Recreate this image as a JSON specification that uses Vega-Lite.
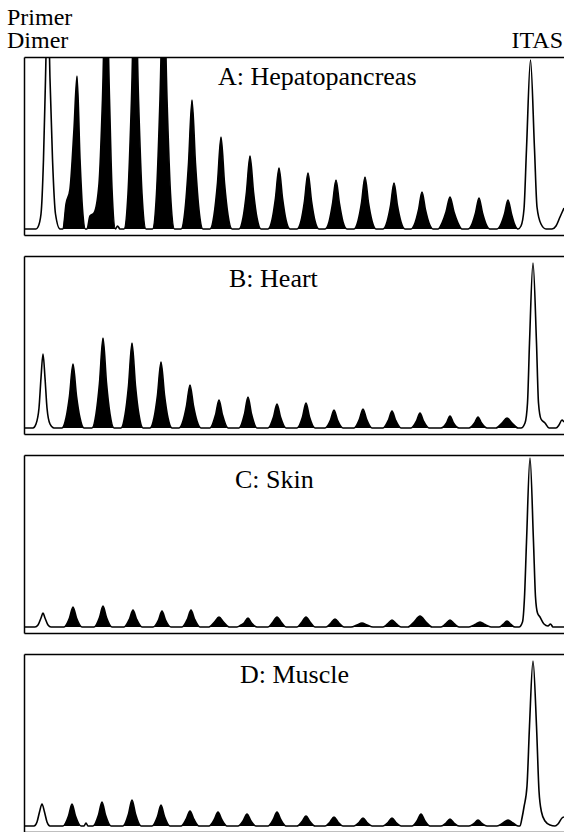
{
  "$schema": "https://vega.github.io/schema/vega-lite/v6.json",
  "autosize": {"type": "pad"},
  "padding": {"left": 7, "top": 6, "right": 0, "bottom": 0},
  "spacing": 21,
  "background": "white",
  "config": {"view": {"stroke": null}},
  "datasets": {
    "A": [
      {"x":24,"y":0,"g":0},{"x":36,"y":0,"g":0},{"x":38,"y":2,"g":0},{"x":41,"y":15,"g":0},{"x":43.5,"y":70,"g":0},{"x":45.5,"y":150,"g":0},{"x":47.8,"y":240,"g":0},{"x":50,"y":150,"g":0},{"x":52.5,"y":70,"g":0},{"x":55.5,"y":15,"g":0},{"x":60,"y":0,"g":0},
      {"x":63,"y":0,"g":1},{"x":66,"y":25,"g":1},{"x":70,"y":40,"g":1},{"x":74,"y":100,"g":1},{"x":77,"y":153,"g":1},{"x":80,"y":70,"g":1},{"x":82.5,"y":20,"g":1},{"x":85.5,"y":0,"g":1},
      {"x":87,"y":0,"g":2},{"x":90,"y":13,"g":2},{"x":94,"y":16,"g":2},{"x":99,"y":45,"g":2},{"x":102.5,"y":130,"g":2},{"x":106,"y":260,"g":2},{"x":109.5,"y":130,"g":2},{"x":112,"y":40,"g":2},{"x":115.5,"y":0,"g":2},
      {"x":117.5,"y":3,"g":0},{"x":120,"y":0,"g":0},
      {"x":124,"y":0,"g":3},{"x":128,"y":35,"g":3},{"x":131.5,"y":130,"g":3},{"x":135,"y":260,"g":3},{"x":138.5,"y":130,"g":3},{"x":142,"y":35,"g":3},{"x":146,"y":0,"g":3},
      {"x":152.5,"y":0,"g":4},{"x":156.5,"y":35,"g":4},{"x":160,"y":130,"g":4},{"x":163.5,"y":260,"g":4},{"x":167,"y":130,"g":4},{"x":170.5,"y":35,"g":4},{"x":174.5,"y":0,"g":4},
      {"x":181,"y":0,"g":5},{"x":185,"y":19,"g":5},{"x":188.5,"y":65,"g":5},{"x":192,"y":129,"g":5},{"x":195.5,"y":65,"g":5},{"x":199,"y":19,"g":5},{"x":203,"y":0,"g":5},
      {"x":210,"y":0,"g":6},{"x":214,"y":14,"g":6},{"x":217.5,"y":46,"g":6},{"x":221,"y":92,"g":6},{"x":224.5,"y":46,"g":6},{"x":228,"y":14,"g":6},{"x":232,"y":0,"g":6},
      {"x":239,"y":0,"g":7},{"x":243,"y":11,"g":7},{"x":246.5,"y":37,"g":7},{"x":250,"y":73,"g":7},{"x":253.5,"y":37,"g":7},{"x":257,"y":11,"g":7},{"x":261,"y":0,"g":7},
      {"x":268,"y":0,"g":8},{"x":272,"y":9,"g":8},{"x":275.5,"y":31,"g":8},{"x":279,"y":61,"g":8},{"x":282.5,"y":31,"g":8},{"x":286,"y":9,"g":8},{"x":290,"y":0,"g":8},
      {"x":297,"y":0,"g":9},{"x":301,"y":8,"g":9},{"x":304.5,"y":28,"g":9},{"x":308,"y":56,"g":9},{"x":311.5,"y":28,"g":9},{"x":315,"y":8,"g":9},{"x":319,"y":0,"g":9},
      {"x":325,"y":0,"g":10},{"x":329,"y":7,"g":10},{"x":332.5,"y":25,"g":10},{"x":336,"y":49,"g":10},{"x":339.5,"y":25,"g":10},{"x":343,"y":7,"g":10},{"x":347,"y":0,"g":10},
      {"x":354,"y":0,"g":11},{"x":358,"y":8,"g":11},{"x":361.5,"y":26,"g":11},{"x":365,"y":52,"g":11},{"x":368.5,"y":26,"g":11},{"x":372,"y":8,"g":11},{"x":376,"y":0,"g":11},
      {"x":383,"y":0,"g":12},{"x":387,"y":7,"g":12},{"x":390.5,"y":23,"g":12},{"x":394,"y":46,"g":12},{"x":397.5,"y":23,"g":12},{"x":401,"y":7,"g":12},{"x":405,"y":0,"g":12},
      {"x":411,"y":0,"g":13},{"x":415,"y":6,"g":13},{"x":418.5,"y":19,"g":13},{"x":422,"y":37,"g":13},{"x":425.5,"y":19,"g":13},{"x":429,"y":6,"g":13},{"x":433,"y":0,"g":13},
      {"x":438,"y":0,"g":14},{"x":442,"y":6,"g":14},{"x":446,"y":17,"g":14},{"x":450,"y":32,"g":14},{"x":454,"y":17,"g":14},{"x":458,"y":6,"g":14},{"x":462,"y":0,"g":14},
      {"x":468,"y":0,"g":15},{"x":472,"y":5,"g":15},{"x":475.5,"y":16,"g":15},{"x":479,"y":31,"g":15},{"x":482.5,"y":16,"g":15},{"x":486,"y":5,"g":15},{"x":490,"y":0,"g":15},
      {"x":497,"y":0,"g":16},{"x":501,"y":5,"g":16},{"x":504.5,"y":15,"g":16},{"x":508,"y":29,"g":16},{"x":511.5,"y":15,"g":16},{"x":514.5,"y":5,"g":16},{"x":518,"y":0,"g":16},
      {"x":521,"y":3,"g":0},{"x":524,"y":20,"g":0},{"x":526.5,"y":80,"g":0},{"x":530.5,"y":169,"g":0},{"x":534.5,"y":80,"g":0},{"x":537,"y":22,"g":0},{"x":541,"y":5,"g":0},{"x":546,"y":0,"g":0},{"x":552,"y":0,"g":0},{"x":556,"y":3,"g":0},{"x":560,"y":12,"g":0},{"x":564,"y":21,"g":0}
    ],
    "B": [
      {"x":24,"y":0,"g":0},{"x":33,"y":0,"g":0},{"x":36,"y":4,"g":0},{"x":39,"y":20,"g":0},{"x":41,"y":50,"g":0},{"x":43,"y":74,"g":0},{"x":45,"y":50,"g":0},{"x":47,"y":20,"g":0},{"x":50,"y":4,"g":0},{"x":54,"y":0,"g":0},
      {"x":62,"y":0,"g":1},{"x":66,"y":10,"g":1},{"x":69.5,"y":32,"g":1},{"x":73,"y":64,"g":1},{"x":76.5,"y":32,"g":1},{"x":80,"y":10,"g":1},{"x":84,"y":0,"g":1},
      {"x":92,"y":0,"g":2},{"x":96,"y":14,"g":2},{"x":99.5,"y":45,"g":2},{"x":103,"y":90,"g":2},{"x":106.5,"y":45,"g":2},{"x":110,"y":14,"g":2},{"x":114,"y":0,"g":2},
      {"x":121,"y":0,"g":3},{"x":125,"y":13,"g":3},{"x":128.5,"y":42,"g":3},{"x":132,"y":85,"g":3},{"x":135.5,"y":42,"g":3},{"x":139,"y":13,"g":3},{"x":143,"y":0,"g":3},
      {"x":150,"y":0,"g":4},{"x":154,"y":10,"g":4},{"x":157.5,"y":33,"g":4},{"x":161,"y":66,"g":4},{"x":164.5,"y":33,"g":4},{"x":168,"y":10,"g":4},{"x":172,"y":0,"g":4},
      {"x":179,"y":0,"g":5},{"x":183,"y":7,"g":5},{"x":186.5,"y":22,"g":5},{"x":190,"y":43,"g":5},{"x":193.5,"y":22,"g":5},{"x":197,"y":7,"g":5},{"x":201,"y":0,"g":5},
      {"x":210,"y":0,"g":6},{"x":215.5,"y":13,"g":6},{"x":219,"y":28,"g":6},{"x":222.5,"y":13,"g":6},{"x":228,"y":0,"g":6},
      {"x":239,"y":0,"g":7},{"x":244.5,"y":14,"g":7},{"x":248,"y":31,"g":7},{"x":251.5,"y":14,"g":7},{"x":257,"y":0,"g":7},
      {"x":268,"y":0,"g":8},{"x":273.5,"y":11,"g":8},{"x":277,"y":24,"g":8},{"x":280.5,"y":11,"g":8},{"x":286,"y":0,"g":8},
      {"x":297,"y":0,"g":9},{"x":302.5,"y":11,"g":9},{"x":306,"y":25,"g":9},{"x":309.5,"y":11,"g":9},{"x":315,"y":0,"g":9},
      {"x":325,"y":0,"g":10},{"x":330.5,"y":8,"g":10},{"x":334,"y":18,"g":10},{"x":337.5,"y":8,"g":10},{"x":343,"y":0,"g":10},
      {"x":354,"y":0,"g":11},{"x":359.5,"y":9,"g":11},{"x":363,"y":19,"g":11},{"x":366.5,"y":9,"g":11},{"x":372,"y":0,"g":11},
      {"x":383,"y":0,"g":12},{"x":388.5,"y":8,"g":12},{"x":392,"y":17,"g":12},{"x":395.5,"y":8,"g":12},{"x":401,"y":0,"g":12},
      {"x":411,"y":0,"g":13},{"x":416.5,"y":7,"g":13},{"x":420,"y":15,"g":13},{"x":423.5,"y":7,"g":13},{"x":429,"y":0,"g":13},
      {"x":441,"y":0,"g":14},{"x":446.5,"y":5,"g":14},{"x":450,"y":12,"g":14},{"x":453.5,"y":5,"g":14},{"x":459,"y":0,"g":14},
      {"x":469,"y":0,"g":15},{"x":474.5,"y":5,"g":15},{"x":478,"y":11,"g":15},{"x":481.5,"y":5,"g":15},{"x":487,"y":0,"g":15},
      {"x":496,"y":0,"g":16},{"x":502,"y":5,"g":16},{"x":507,"y":10,"g":16},{"x":512,"y":5,"g":16},{"x":518,"y":0,"g":16},
      {"x":521,"y":0,"g":0},{"x":525,"y":5,"g":0},{"x":527.5,"y":25,"g":0},{"x":529.5,"y":85,"g":0},{"x":533,"y":165,"g":0},{"x":536.5,"y":85,"g":0},{"x":538.5,"y":25,"g":0},{"x":541,"y":9,"g":0},{"x":545,"y":5,"g":0},{"x":549,"y":0,"g":0},{"x":556,"y":0,"g":0},{"x":559,"y":3,"g":0},{"x":562,"y":8,"g":0},{"x":564,"y":6,"g":0}
    ],
    "C": [
      {"x":24,"y":0,"g":0},{"x":35,"y":0,"g":0},{"x":38,"y":2,"g":0},{"x":41,"y":9,"g":0},{"x":43,"y":14,"g":0},{"x":45,"y":9,"g":0},{"x":48,"y":2,"g":0},{"x":51,"y":0,"g":0},
      {"x":64,"y":0,"g":1},{"x":69.5,"y":9,"g":1},{"x":73,"y":20,"g":1},{"x":76.5,"y":9,"g":1},{"x":82,"y":0,"g":1},
      {"x":94,"y":0,"g":2},{"x":99.5,"y":9.5,"g":2},{"x":103,"y":21,"g":2},{"x":106.5,"y":9.5,"g":2},{"x":112,"y":0,"g":2},
      {"x":124,"y":0,"g":3},{"x":129.5,"y":8,"g":3},{"x":133,"y":17,"g":3},{"x":136.5,"y":8,"g":3},{"x":142,"y":0,"g":3},
      {"x":153,"y":0,"g":4},{"x":158.5,"y":7,"g":4},{"x":162,"y":16,"g":4},{"x":165.5,"y":7,"g":4},{"x":171,"y":0,"g":4},
      {"x":182,"y":0,"g":5},{"x":187.5,"y":8,"g":5},{"x":191,"y":17,"g":5},{"x":194.5,"y":8,"g":5},{"x":200,"y":0,"g":5},
      {"x":209,"y":0,"g":6},{"x":214.5,"y":5,"g":6},{"x":219,"y":10,"g":6},{"x":223.5,"y":5,"g":6},{"x":229,"y":0,"g":6},
      {"x":237,"y":0,"g":7},{"x":241,"y":2,"g":7},{"x":244,"y":4,"g":7},{"x":248,"y":9,"g":7},{"x":251.5,"y":4,"g":7},{"x":257,"y":0,"g":7},
      {"x":268,"y":0,"g":8},{"x":272.5,"y":4.5,"g":8},{"x":277,"y":10,"g":8},{"x":281.5,"y":4.5,"g":8},{"x":286,"y":0,"g":8},
      {"x":297,"y":0,"g":9},{"x":301.5,"y":4.5,"g":9},{"x":306,"y":10,"g":9},{"x":310.5,"y":4.5,"g":9},{"x":315,"y":0,"g":9},
      {"x":326,"y":0,"g":10},{"x":330.5,"y":3.5,"g":10},{"x":335,"y":8,"g":10},{"x":339.5,"y":3.5,"g":10},{"x":344,"y":0,"g":10},
      {"x":351,"y":0,"g":11},{"x":357,"y":2,"g":11},{"x":362,"y":4,"g":11},{"x":367,"y":2,"g":11},{"x":373,"y":0,"g":11},
      {"x":383,"y":0,"g":12},{"x":387.5,"y":3,"g":12},{"x":392,"y":7,"g":12},{"x":396.5,"y":3,"g":12},{"x":401,"y":0,"g":12},
      {"x":408,"y":0,"g":13},{"x":414,"y":5,"g":13},{"x":420,"y":11,"g":13},{"x":426,"y":5,"g":13},{"x":432,"y":0,"g":13},
      {"x":441,"y":0,"g":14},{"x":445.5,"y":3,"g":14},{"x":450,"y":7,"g":14},{"x":454.5,"y":3,"g":14},{"x":459,"y":0,"g":14},
      {"x":469,"y":0,"g":15},{"x":475,"y":2.5,"g":15},{"x":480,"y":5,"g":15},{"x":485,"y":2.5,"g":15},{"x":491,"y":0,"g":15},
      {"x":499,"y":0,"g":16},{"x":503,"y":2.5,"g":16},{"x":507,"y":6,"g":16},{"x":511,"y":2.5,"g":16},{"x":515,"y":0,"g":16},
      {"x":519,"y":0,"g":0},{"x":522.5,"y":5,"g":0},{"x":524.5,"y":30,"g":0},{"x":526.5,"y":85,"g":0},{"x":530,"y":169,"g":0},{"x":533.5,"y":85,"g":0},{"x":535.5,"y":30,"g":0},{"x":537.5,"y":14,"g":0},{"x":540,"y":10,"g":0},{"x":544,"y":3,"g":0},{"x":548,"y":1,"g":0},{"x":550.5,"y":3,"g":0},{"x":553,"y":0,"g":0},{"x":564,"y":0,"g":0}
    ],
    "D": [
      {"x":24,"y":0,"g":0},{"x":34,"y":0,"g":0},{"x":37,"y":4,"g":0},{"x":39.5,"y":14,"g":0},{"x":42,"y":22,"g":0},{"x":44.5,"y":14,"g":0},{"x":47,"y":4,"g":0},{"x":50,"y":0,"g":0},
      {"x":63,"y":0,"g":1},{"x":68.5,"y":10,"g":1},{"x":72,"y":22,"g":1},{"x":75.5,"y":10,"g":1},{"x":81,"y":0,"g":1},
      {"x":84,"y":0,"g":0},{"x":86,"y":3,"g":0},{"x":88,"y":0,"g":0},
      {"x":93,"y":0,"g":2},{"x":98.5,"y":11,"g":2},{"x":102,"y":24,"g":2},{"x":105.5,"y":11,"g":2},{"x":111,"y":0,"g":2},
      {"x":123,"y":0,"g":3},{"x":128.5,"y":12,"g":3},{"x":132,"y":26,"g":3},{"x":135.5,"y":12,"g":3},{"x":141,"y":0,"g":3},
      {"x":152,"y":0,"g":4},{"x":157.5,"y":9.5,"g":4},{"x":161,"y":21,"g":4},{"x":164.5,"y":9.5,"g":4},{"x":170,"y":0,"g":4},
      {"x":181,"y":0,"g":5},{"x":186,"y":6.5,"g":5},{"x":190,"y":15,"g":5},{"x":194,"y":6.5,"g":5},{"x":199,"y":0,"g":5},
      {"x":209,"y":0,"g":6},{"x":214,"y":6,"g":6},{"x":218,"y":14,"g":6},{"x":222,"y":6,"g":6},{"x":227,"y":0,"g":6},
      {"x":238,"y":0,"g":7},{"x":243,"y":5,"g":7},{"x":247,"y":12,"g":7},{"x":251,"y":5,"g":7},{"x":256,"y":0,"g":7},
      {"x":268,"y":0,"g":8},{"x":273,"y":6,"g":8},{"x":277,"y":14,"g":8},{"x":281,"y":6,"g":8},{"x":286,"y":0,"g":8},
      {"x":297,"y":0,"g":9},{"x":302,"y":4.5,"g":9},{"x":306,"y":10,"g":9},{"x":310,"y":4.5,"g":9},{"x":315,"y":0,"g":9},
      {"x":325,"y":0,"g":10},{"x":330,"y":4,"g":10},{"x":334,"y":9,"g":10},{"x":338,"y":4,"g":10},{"x":343,"y":0,"g":10},
      {"x":354,"y":0,"g":11},{"x":359,"y":3.5,"g":11},{"x":363,"y":8,"g":11},{"x":367,"y":3.5,"g":11},{"x":372,"y":0,"g":11},
      {"x":383,"y":0,"g":12},{"x":388,"y":3.5,"g":12},{"x":392,"y":8,"g":12},{"x":396,"y":3.5,"g":12},{"x":401,"y":0,"g":12},
      {"x":412,"y":0,"g":13},{"x":417,"y":5,"g":13},{"x":421,"y":12,"g":13},{"x":425,"y":5,"g":13},{"x":430,"y":0,"g":13},
      {"x":441,"y":0,"g":14},{"x":446,"y":3,"g":14},{"x":450,"y":7,"g":14},{"x":454,"y":3,"g":14},{"x":459,"y":0,"g":14},
      {"x":469,"y":0,"g":15},{"x":474,"y":2.5,"g":15},{"x":478,"y":6,"g":15},{"x":482,"y":2.5,"g":15},{"x":487,"y":0,"g":15},
      {"x":497,"y":0,"g":16},{"x":503,"y":3,"g":16},{"x":508,"y":6,"g":16},{"x":513,"y":3,"g":16},{"x":518,"y":0,"g":16},
      {"x":520,"y":0,"g":0},{"x":522,"y":8,"g":0},{"x":524,"y":19,"g":0},{"x":527,"y":40,"g":0},{"x":529.5,"y":100,"g":0},{"x":533,"y":165,"g":0},{"x":536.5,"y":100,"g":0},{"x":539,"y":35,"g":0},{"x":541.5,"y":14,"g":0},{"x":545,"y":5,"g":0},{"x":550,"y":1,"g":0},{"x":555,"y":0,"g":0},{"x":558,"y":2,"g":0},{"x":562,"y":8,"g":0},{"x":564,"y":9,"g":0}
    ]
  },
  "vconcat": [
    {
      "width": 540, "height": 178,
      "layer": [
        {"data": {"name": "A"}, "transform": [{"filter": "datum.g > 0"}],
         "mark": {"type": "area", "interpolate": "monotone", "color": "black", "clip": true},
         "encoding": {"x": {"field": "x", "type": "quantitative", "scale": {"domain": [24, 564], "nice": false, "zero": false}, "axis": null},
                      "y": {"field": "y", "type": "quantitative", "scale": {"domain": [-6, 172], "nice": false, "zero": false}, "axis": {"orient": "left", "ticks": false, "labels": false, "grid": false, "title": null, "domainColor": "black", "domainWidth": 1.5}},
                      "detail": {"field": "g"}}},
        {"data": {"name": "A"},
         "mark": {"type": "line", "interpolate": "monotone", "color": "black", "strokeWidth": 1.6, "clip": true},
         "encoding": {"x": {"field": "x", "type": "quantitative", "scale": {"domain": [24, 564], "nice": false, "zero": false}, "axis": {"orient": "bottom", "ticks": false, "labels": false, "grid": false, "title": null, "domainColor": "black", "domainWidth": 1.5}},
                      "y": {"field": "y", "type": "quantitative", "scale": {"domain": [-6, 172], "nice": false, "zero": false}, "axis": {"orient": "left", "ticks": false, "labels": false, "grid": false, "title": null, "domainColor": "black", "domainWidth": 1.5}}}},
        {"data": {"values": [{"x": 218, "y": 144, "t": "A: Hepatopancreas"}]},
         "mark": {"type": "text", "font": "Liberation Serif", "fontSize": 26, "align": "left", "baseline": "alphabetic", "color": "black"},
         "encoding": {"x": {"field": "x", "type": "quantitative", "scale": {"domain": [24, 564], "nice": false, "zero": false}, "axis": {"orient": "top", "ticks": false, "labels": false, "grid": false, "title": null, "domainColor": "black", "domainWidth": 1.5}},
                      "y": {"field": "y", "type": "quantitative", "scale": {"domain": [-6, 172], "nice": false, "zero": false}, "axis": {"orient": "left", "ticks": false, "labels": false, "grid": false, "title": null, "domainColor": "black", "domainWidth": 1.5}},
                      "text": {"field": "t"}}},
        {"data": {"values": [{"x": 7, "y": 204, "t": "Primer"}, {"x": 7, "y": 181, "t": "Dimer"}]},
         "mark": {"type": "text", "font": "Liberation Serif", "fontSize": 24, "align": "left", "baseline": "alphabetic", "color": "black"},
         "encoding": {"x": {"field": "x", "type": "quantitative", "scale": {"domain": [24, 564], "nice": false, "zero": false}, "axis": null},
                      "y": {"field": "y", "type": "quantitative", "scale": {"domain": [-6, 172], "nice": false, "zero": false}, "axis": {"orient": "left", "ticks": false, "labels": false, "grid": false, "title": null, "domainColor": "black", "domainWidth": 1.5}},
                      "text": {"field": "t"}}},
        {"data": {"values": [{"x": 563, "y": 181, "t": "ITAS"}]},
         "mark": {"type": "text", "font": "Liberation Serif", "fontSize": 24, "align": "right", "baseline": "alphabetic", "color": "black"},
         "encoding": {"x": {"field": "x", "type": "quantitative", "scale": {"domain": [24, 564], "nice": false, "zero": false}, "axis": null},
                      "y": {"field": "y", "type": "quantitative", "scale": {"domain": [-6, 172], "nice": false, "zero": false}, "axis": {"orient": "left", "ticks": false, "labels": false, "grid": false, "title": null, "domainColor": "black", "domainWidth": 1.5}},
                      "text": {"field": "t"}}}
      ],
      "resolve": {"axis": {"x": "independent"}}
    },
    {
      "width": 540, "height": 178,
      "layer": [
        {"data": {"name": "B"}, "transform": [{"filter": "datum.g > 0"}],
         "mark": {"type": "area", "interpolate": "monotone", "color": "black", "clip": true},
         "encoding": {"x": {"field": "x", "type": "quantitative", "scale": {"domain": [24, 564], "nice": false, "zero": false}, "axis": null},
                      "y": {"field": "y", "type": "quantitative", "scale": {"domain": [-6, 172], "nice": false, "zero": false}, "axis": {"orient": "left", "ticks": false, "labels": false, "grid": false, "title": null, "domainColor": "black", "domainWidth": 1.5}},
                      "detail": {"field": "g"}}},
        {"data": {"name": "B"},
         "mark": {"type": "line", "interpolate": "monotone", "color": "black", "strokeWidth": 1.6, "clip": true},
         "encoding": {"x": {"field": "x", "type": "quantitative", "scale": {"domain": [24, 564], "nice": false, "zero": false}, "axis": {"orient": "bottom", "ticks": false, "labels": false, "grid": false, "title": null, "domainColor": "black", "domainWidth": 1.5}},
                      "y": {"field": "y", "type": "quantitative", "scale": {"domain": [-6, 172], "nice": false, "zero": false}, "axis": {"orient": "left", "ticks": false, "labels": false, "grid": false, "title": null, "domainColor": "black", "domainWidth": 1.5}}}},
        {"data": {"values": [{"x": 229, "y": 141, "t": "B: Heart"}]},
         "mark": {"type": "text", "font": "Liberation Serif", "fontSize": 26, "align": "left", "baseline": "alphabetic", "color": "black"},
         "encoding": {"x": {"field": "x", "type": "quantitative", "scale": {"domain": [24, 564], "nice": false, "zero": false}, "axis": {"orient": "top", "ticks": false, "labels": false, "grid": false, "title": null, "domainColor": "black", "domainWidth": 1.5}},
                      "y": {"field": "y", "type": "quantitative", "scale": {"domain": [-6, 172], "nice": false, "zero": false}, "axis": {"orient": "left", "ticks": false, "labels": false, "grid": false, "title": null, "domainColor": "black", "domainWidth": 1.5}},
                      "text": {"field": "t"}}}
      ],
      "resolve": {"axis": {"x": "independent"}}
    },
    {
      "width": 540, "height": 178,
      "layer": [
        {"data": {"name": "C"}, "transform": [{"filter": "datum.g > 0"}],
         "mark": {"type": "area", "interpolate": "monotone", "color": "black", "clip": true},
         "encoding": {"x": {"field": "x", "type": "quantitative", "scale": {"domain": [24, 564], "nice": false, "zero": false}, "axis": null},
                      "y": {"field": "y", "type": "quantitative", "scale": {"domain": [-6, 172], "nice": false, "zero": false}, "axis": {"orient": "left", "ticks": false, "labels": false, "grid": false, "title": null, "domainColor": "black", "domainWidth": 1.5}},
                      "detail": {"field": "g"}}},
        {"data": {"name": "C"},
         "mark": {"type": "line", "interpolate": "monotone", "color": "black", "strokeWidth": 1.6, "clip": true},
         "encoding": {"x": {"field": "x", "type": "quantitative", "scale": {"domain": [24, 564], "nice": false, "zero": false}, "axis": {"orient": "bottom", "ticks": false, "labels": false, "grid": false, "title": null, "domainColor": "black", "domainWidth": 1.5}},
                      "y": {"field": "y", "type": "quantitative", "scale": {"domain": [-6, 172], "nice": false, "zero": false}, "axis": {"orient": "left", "ticks": false, "labels": false, "grid": false, "title": null, "domainColor": "black", "domainWidth": 1.5}}}},
        {"data": {"values": [{"x": 235, "y": 139, "t": "C: Skin"}]},
         "mark": {"type": "text", "font": "Liberation Serif", "fontSize": 26, "align": "left", "baseline": "alphabetic", "color": "black"},
         "encoding": {"x": {"field": "x", "type": "quantitative", "scale": {"domain": [24, 564], "nice": false, "zero": false}, "axis": {"orient": "top", "ticks": false, "labels": false, "grid": false, "title": null, "domainColor": "black", "domainWidth": 1.5}},
                      "y": {"field": "y", "type": "quantitative", "scale": {"domain": [-6, 172], "nice": false, "zero": false}, "axis": {"orient": "left", "ticks": false, "labels": false, "grid": false, "title": null, "domainColor": "black", "domainWidth": 1.5}},
                      "text": {"field": "t"}}}
      ],
      "resolve": {"axis": {"x": "independent"}}
    },
    {
      "width": 540, "height": 178,
      "layer": [
        {"data": {"name": "D"}, "transform": [{"filter": "datum.g > 0"}],
         "mark": {"type": "area", "interpolate": "monotone", "color": "black", "clip": true},
         "encoding": {"x": {"field": "x", "type": "quantitative", "scale": {"domain": [24, 564], "nice": false, "zero": false}, "axis": null},
                      "y": {"field": "y", "type": "quantitative", "scale": {"domain": [-6, 172], "nice": false, "zero": false}, "axis": {"orient": "left", "ticks": false, "labels": false, "grid": false, "title": null, "domainColor": "black", "domainWidth": 1.5}},
                      "detail": {"field": "g"}}},
        {"data": {"name": "D"},
         "mark": {"type": "line", "interpolate": "monotone", "color": "black", "strokeWidth": 1.6, "clip": true},
         "encoding": {"x": {"field": "x", "type": "quantitative", "scale": {"domain": [24, 564], "nice": false, "zero": false}, "axis": {"orient": "bottom", "ticks": false, "labels": false, "grid": false, "title": null, "domainColor": "black", "domainWidth": 1.5}},
                      "y": {"field": "y", "type": "quantitative", "scale": {"domain": [-6, 172], "nice": false, "zero": false}, "axis": {"orient": "left", "ticks": false, "labels": false, "grid": false, "title": null, "domainColor": "black", "domainWidth": 1.5}}}},
        {"data": {"values": [{"x": 240, "y": 143, "t": "D: Muscle"}]},
         "mark": {"type": "text", "font": "Liberation Serif", "fontSize": 26, "align": "left", "baseline": "alphabetic", "color": "black"},
         "encoding": {"x": {"field": "x", "type": "quantitative", "scale": {"domain": [24, 564], "nice": false, "zero": false}, "axis": {"orient": "top", "ticks": false, "labels": false, "grid": false, "title": null, "domainColor": "black", "domainWidth": 1.5}},
                      "y": {"field": "y", "type": "quantitative", "scale": {"domain": [-6, 172], "nice": false, "zero": false}, "axis": {"orient": "left", "ticks": false, "labels": false, "grid": false, "title": null, "domainColor": "black", "domainWidth": 1.5}},
                      "text": {"field": "t"}}}
      ],
      "resolve": {"axis": {"x": "independent"}}
    }
  ]
}
